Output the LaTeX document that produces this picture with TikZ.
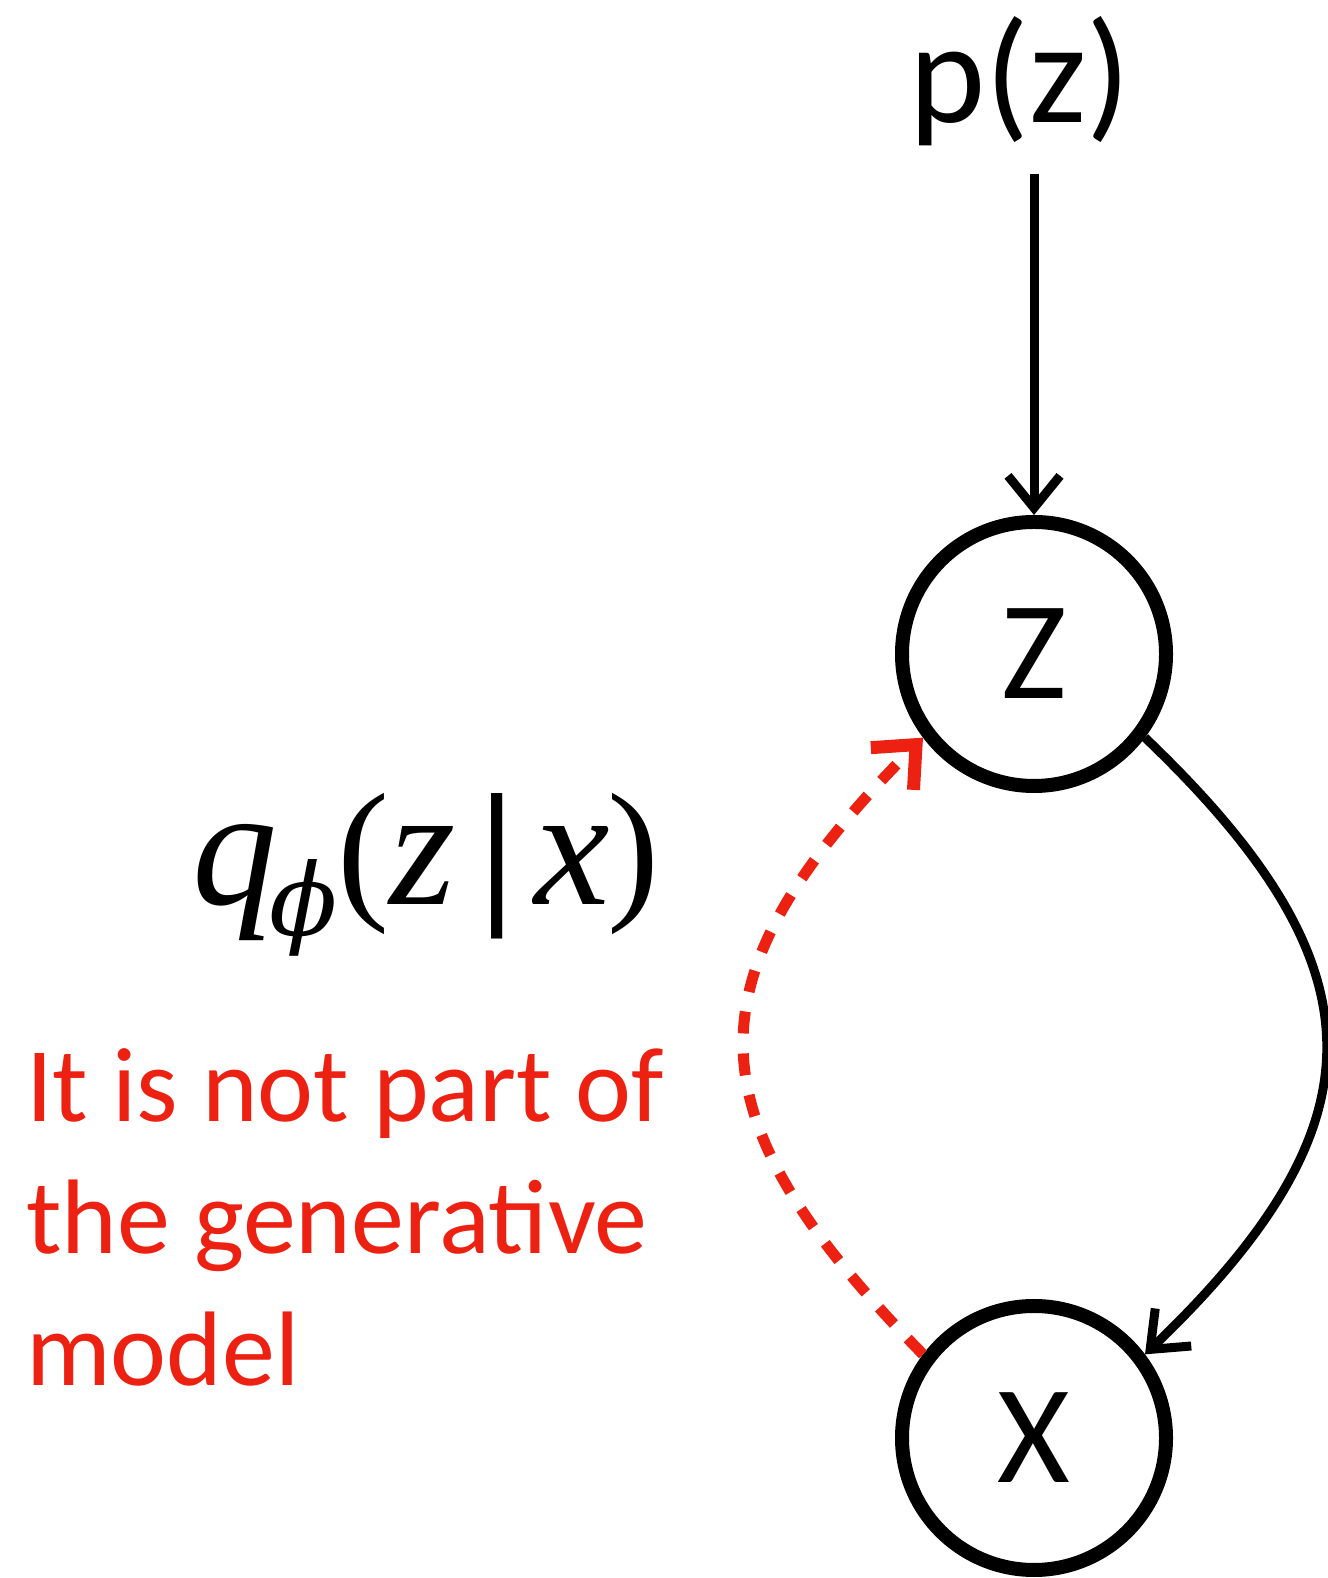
\documentclass[tikz,border=0pt]{standalone}
\usepackage{fontspec}
\setmainfont{Carlito}
\newfontfamily\qfont{Liberation Serif}
\newfontfamily\phfont{DejaVu Serif}
\usetikzlibrary{arrows.meta}
\definecolor{redc}{RGB}{237,33,18}
\newcommand{\qletter}[1]{{\fontsize{170}{200}\selectfont\itshape #1}}
\newcommand{\qparen}[1]{{\fontsize{156}{190}\selectfont\upshape\raisebox{3pt}{#1}}}
\tikzset{
  var/.style={circle,draw,line width=14pt,minimum size=264pt,inner sep=0pt,font=\fontsize{140}{168}\selectfont},
  conn/.style={line width=9pt,-{Straight Barb[length=32pt,width=52pt]}},
  redconn/.style={line width=11pt,redc,dash pattern=on 22pt off 20pt,-{Straight Barb[length=34pt,width=60pt,line width=13pt]}},
}
\begin{document}
\begin{tikzpicture}[x=1pt,y=1pt]
\useasboundingbox (0,0) rectangle (1327,1578);
\node[var] (Z) at (1034,924) {Z};
\node[var] (X) at (1034,140) {X};
\node[inner sep=0pt,anchor=base,font=\fontsize{145}{174}\selectfont] (pz) at (1020,1455) {p(z)};
\coordinate (pzs) at (1034,1404);
\draw[conn] (pzs) -- (Z);
\draw[conn] (Z.-37) .. controls (1386,610) and (1386,455) .. (X.37);
\draw[redconn] (X.143) .. controls (685,466) and (685,600) .. (Z.217);
\node[inner sep=0pt,anchor=base west,font=\qfont\fontsize{160}{190}\selectfont] (q) at (192,673)
  {\qletter{q}\hspace{-8pt}\raisebox{-31pt}{\phfont\itshape\fontsize{100}{120}\selectfont ϕ}\qparen{(}\qletter{z}\hspace{24pt}{\bfseries|}\hspace{20pt}\qletter{x}\hspace{-3pt}\qparen{)}};
\node[inner sep=0pt,anchor=base west,align=left,text=redc,font=\fontsize{106}{132}\selectfont] (note) at (26,192)
  {It is not part of\\the generative\\model};
\end{tikzpicture}
\end{document}
